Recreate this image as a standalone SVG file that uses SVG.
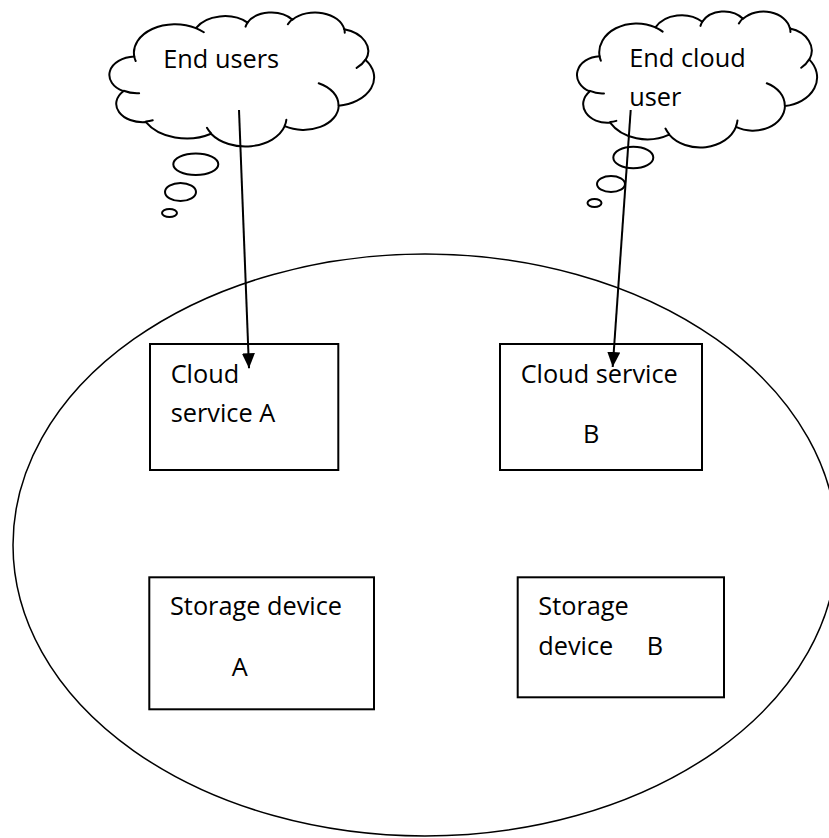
<svg xmlns="http://www.w3.org/2000/svg" width="829" height="838" viewBox="0 0 829 838">
  <defs>
    <style>
      .lbl { font-family: "Open Sans", "Liberation Sans", sans-serif; font-size: 25.3px; fill: #000; }
      .box { fill: #fff; stroke: #000; stroke-width: 2; }
      .cloud { fill: #fff; stroke: #000; stroke-width: 2; stroke-linejoin: round; }
      .crease { fill: none; stroke: #000; stroke-width: 2; stroke-linecap: round; }
      .bubble { fill: #fff; stroke: #000; stroke-width: 2; }
      .edge { fill: none; stroke: #000; stroke-width: 2; }
    </style>
    <marker id="arrow" markerUnits="userSpaceOnUse" markerWidth="15" markerHeight="13" refX="15" refY="6.5" orient="auto">
      <path d="M0,0 L15,6.5 L0,13 Z" fill="#000"/>
    </marker>
    <!-- thought cloud outline on a 432 x 432 frame -->
    <path id="cloudOutline" vector-effect="non-scaling-stroke" d="M39.00,143.70 A67.53,91.90 0 0 1 140.06,52.02 A53.33,72.67 0 0 1 224.57,34.31 A43.65,59.45 0 0 1 298.34,24.79 A48.57,65.95 0 0 1 383.20,55.74 A53.33,72.73 0 0 1 418.20,154.58 A67.75,92.20 0 0 1 374.06,302.01 A57.85,78.67 0 0 1 285.57,368.11 A67.52,92.15 0 0 1 164.82,392.63 A77.20,105.43 0 0 1 58.06,354.70 A43.60,59.18 0 0 1 21.14,255.49 A43.45,59.45 0 0 1 39.00,143.70 Z"/>
    <path id="cloudCreases" vector-effect="non-scaling-stroke" d="M46.93,261.77 A43.45,59.45 0 0 1 21.60,253.80 M69.28,348.99 A43.60,59.18 0 0 1 58.20,352.80 M164.78,390.90 A67.52,92.15 0 0 1 158.10,373.48 M288.27,347.51 A67.52,92.15 0 0 1 285.60,366.60 M341.29,229.54 A57.85,78.67 0 0 1 373.80,300.89 M417.98,153.54 A53.33,72.73 0 0 1 403.51,180.29 M383.24,54.26 A48.57,65.95 0 0 1 384.00,66.90 M290.78,39.52 A48.57,65.95 0 0 1 298.19,23.42 M221.41,47.20 A43.65,59.45 0 0 1 225.00,33.30 M140.00,51.92 A67.53,91.90 0 0 1 153.01,65.42 M41.27,157.89 A67.53,91.90 0 0 1 39.00,143.71"/>
  </defs>

  <rect width="829" height="838" fill="#fff"/>

  <!-- cloud environment boundary -->
  <g id="cloud-boundary">
    <ellipse cx="425" cy="545" rx="412" ry="291" fill="none" stroke="#000" stroke-width="1.5"/>
  </g>

  <g id="end-users">
    <g transform="translate(110.5,12) scale(0.6100,0.3102)">
      <use href="#cloudOutline" class="cloud"/>
      <use href="#cloudCreases" class="crease"/>
    </g>
    <ellipse class="bubble" cx="195.8" cy="164.2" rx="22.5" ry="10.8"/>
    <ellipse class="bubble" cx="180.5" cy="192" rx="15.5" ry="9"/>
    <ellipse class="bubble" cx="169.5" cy="213" rx="7.5" ry="4"/>
    <text class="lbl" x="163.3" y="68.3">End users</text>
  </g>

  <g id="end-cloud-user">
    <g transform="translate(578,11) scale(0.5532,0.3148)">
      <use href="#cloudOutline" class="cloud"/>
      <use href="#cloudCreases" class="crease"/>
    </g>
    <ellipse class="bubble" cx="633.3" cy="157.5" rx="20" ry="10.8"/>
    <ellipse class="bubble" cx="611" cy="184" rx="14" ry="8"/>
    <ellipse class="bubble" cx="594.5" cy="203" rx="7" ry="4"/>
    <text class="lbl" x="629.3" y="66.7">End cloud</text>
    <text class="lbl" x="629.3" y="106">user</text>
  </g>

  <g id="cloud-service-a">
    <rect class="box" x="150" y="344" width="188.3" height="126"/>
    <text class="lbl" x="170.7" y="383.3">Cloud</text>
    <text class="lbl" x="170.7" y="421.7">service A</text>
  </g>

  <g id="cloud-service-b">
    <rect class="box" x="500" y="344" width="202" height="126"/>
    <text class="lbl" x="520.7" y="382.7">Cloud service</text>
    <text class="lbl" x="583" y="442.7">B</text>
  </g>

  <g id="storage-device-a">
    <rect class="box" x="149.3" y="577.3" width="224.7" height="132"/>
    <text class="lbl" x="170" y="615">Storage device</text>
    <text class="lbl" x="231.7" y="676">A</text>
  </g>

  <g id="storage-device-b">
    <rect class="box" x="517.7" y="577.3" width="206.3" height="120"/>
    <text class="lbl" x="538.3" y="615">Storage</text>
    <text class="lbl" y="655"><tspan x="538.3">device</tspan><tspan x="646.7">B</tspan></text>
  </g>

  <g id="connectors">
    <line class="edge" x1="239" y1="110" x2="249" y2="368.3" marker-end="url(#arrow)"/>
    <line class="edge" x1="630.7" y1="110" x2="612.7" y2="367" marker-end="url(#arrow)"/>
  </g>
</svg>
